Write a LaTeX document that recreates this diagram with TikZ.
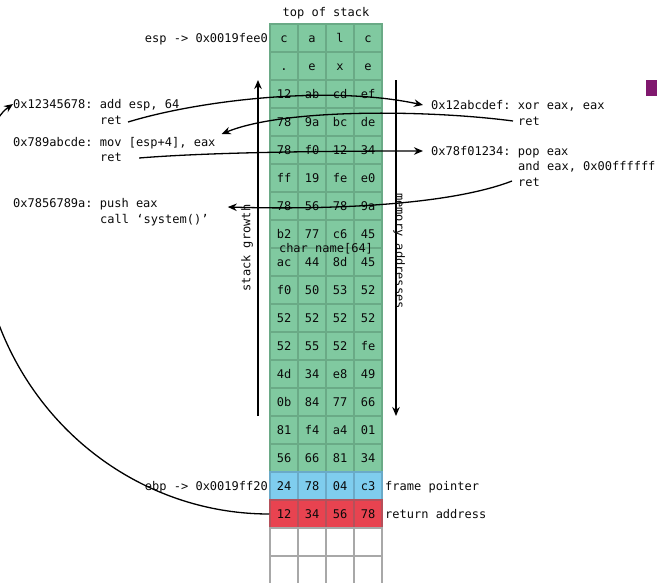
\documentclass[tikz,border=0pt]{standalone}
\usepackage{fontspec}
\setmonofont{DejaVu Sans Mono}
\usetikzlibrary{arrows.meta}
\definecolor{cgreen}{HTML}{80C9A0}
\definecolor{bgreen}{HTML}{6AAA86}
\definecolor{cblue}{HTML}{7FCDEE}
\definecolor{bblue}{HTML}{6AAAC8}
\definecolor{cred}{HTML}{E84350}
\definecolor{bred}{HTML}{B5505A}
\definecolor{bgray}{HTML}{A8A8A8}
\definecolor{txtc}{HTML}{0A0A0A}
\definecolor{purp}{HTML}{80186E}
\begin{document}
\begin{tikzpicture}[x=1pt,y=-1pt,
  font=\ttfamily\fontsize{12}{14}\selectfont,
  txt/.style={inner sep=0pt, text height=8.5pt, text depth=0pt, text=txtc},
  cell/.style={minimum width=28pt, minimum height=28pt, inner sep=0pt, line width=1.5pt, text height=8.5pt, text depth=0pt, text=txtc},
  conn/.style={line width=1.3pt, draw=black, -{Stealth[length=9pt,width=7.5pt]}}]
\useasboundingbox (0,0) rectangle (657,582);
\clip (0,0) rectangle (657,582);

% grid
\foreach \row [count=\i] in {{c,a,l,c},{.,e,x,e},{12,ab,cd,ef},{78,9a,bc,de},{78,f0,12,34},{ff,19,fe,e0},{78,56,78,9a},{b2,77,c6,45},{ac,44,8d,45},{f0,50,53,52},{52,52,52,52},{52,55,52,fe},{4d,34,e8,49},{0b,84,77,66},{81,f4,a4,01},{56,66,81,34}}
  \foreach \v [count=\j] in \row
    \node[cell, fill=cgreen, draw=bgreen] (c-\i-\j) at ({256+28*\j},{10+28*\i}) {\v};
\foreach \v [count=\j] in {24,78,04,c3}
  \node[cell, fill=cblue, draw=bblue] (c-17-\j) at ({256+28*\j},486) {\v};
\foreach \v [count=\j] in {12,34,56,78}
  \node[cell, fill=cred, draw=bred] (c-18-\j) at ({256+28*\j},514) {\v};
\foreach \i in {19,20}
  \foreach \j in {1,2,3,4}
    \node[cell, fill=white, draw=bgray] (c-\i-\j) at ({256+28*\j},{10+28*\i}) {};

\node[txt] (cname) at (326,248) {char name[64]};

% labels
\node[txt] (top) at (326,12) {top of stack};
\node[txt, anchor=east] (esp) at (268,38) {esp -> 0x0019fee0};
\node[txt, anchor=east] (ebp) at (268,486) {ebp -> 0x0019ff20};
\node[txt, anchor=west] (fp) at (385,486) {frame pointer};
\node[txt, anchor=west] (ra) at (385,514) {return address};

\node[txt, anchor=west] (L1a) at (13,104) {0x12345678: add esp, 64};
\node[txt, anchor=west] (L1b) at (100,120) {ret};
\node[txt, anchor=west] (L2a) at (13,142) {0x789abcde: mov [esp+4], eax};
\node[txt, anchor=west] (L2b) at (100,157) {ret};
\node[txt, anchor=west] (L3a) at (13,203) {0x7856789a: push eax};
\node[txt, anchor=west] (L3b) at (100,219) {call ‘system()’};

\node[txt, anchor=west] (R1a) at (431,105) {0x12abcdef: xor eax, eax};
\node[txt, anchor=west] (R1b) at (518,121) {ret};
\node[txt, anchor=west] (R2a) at (431,151) {0x78f01234: pop eax};
\node[txt, anchor=west] (R2b) at (518,166) {and eax, 0x00ffffff};
\node[txt, anchor=west] (R2c) at (518,182) {ret};

% vertical arrows
\coordinate (sg0) at (258,416);
\coordinate (sg1) at (258,80);
\coordinate (ma0) at (396,80);
\coordinate (ma1) at (396,416);
\draw[conn] (sg0) -- (sg1);
\draw[conn] (ma0) -- (ma1);
\node[txt, rotate=90] (sgl) at (246,248) {stack growth};
\node[txt, rotate=-90] (mal) at (400,251) {memory addresses};

% gadget chain connectors
\draw[conn] ([xshift=6pt,yshift=-2pt]L1b.east) .. controls +(72,-22) and +(-93,-20) .. ([xshift=-8pt]R1a.west);
\draw[conn] ([xshift=-5pt]R1b.west) .. controls +(-83,-11) and +(63,-26) .. ([xshift=6pt,yshift=8pt]L2a.east);
\draw[conn] ([xshift=17pt,yshift=-1pt]L2b.east) .. controls +(61,-5) and +(-123,0) .. ([xshift=-8pt]R2a.west);
\draw[conn] ([xshift=-6pt,yshift=1pt]R2c.west) .. controls +(-62,24) and +(103,3) .. ([xshift=19pt,yshift=12pt]L3b.east);
\draw[conn] (c-18-1.west) arc[start angle=90, end angle=185, x radius=290, y radius=297]
  .. controls +(0,-40) and +(-20,14) .. (L1a.west);

% stray marker
\fill[purp] (646,80) rectangle (657,96);
\end{tikzpicture}
\end{document}
